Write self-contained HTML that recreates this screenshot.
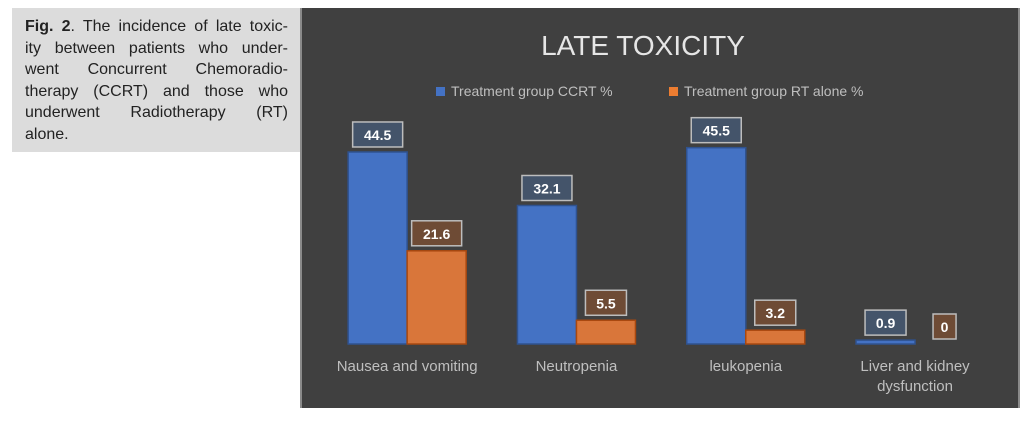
<!DOCTYPE html>
<html><head><meta charset="utf-8"><style>
body{margin:0;width:1029px;height:421px;background:#fff;position:relative;overflow:hidden;font-family:"Liberation Sans","DejaVu Sans",sans-serif}
#cap{position:absolute;left:12px;top:8px;width:288px;height:144px;background:#dcdcdc;box-sizing:border-box;padding:8px 12px 0 13px;font-family:"Liberation Sans",sans-serif;font-size:16px;line-height:21.5px;color:#222}
#cap div{text-align:justify;text-align-last:justify;white-space:nowrap;height:21.5px}
#cap div.last{text-align-last:left}
#panel{position:absolute;left:300px;top:8px;width:720px;height:400px;background:#404040;border-left:2px solid #8a8a8a;border-right:2px solid #8a8a8a;box-sizing:border-box}
</style></head><body>
<div id="cap">
<div><b>Fig. 2</b>. The incidence of late toxic-</div>
<div>ity between patients who under-</div>
<div>went Concurrent Chemoradio-</div>
<div>therapy (CCRT) and those who</div>
<div>underwent Radiotherapy (RT)</div>
<div class="last">alone.</div>
</div>
<div id="panel"></div>
<svg id="chart" width="1029" height="421" style="position:absolute;left:0;top:0">
<text x="643" y="55" text-anchor="middle" font-size="28" fill="#e6e6e6">LATE TOXICITY</text>
<rect x="436" y="87" width="9" height="9" fill="#4472c4"/>
<text x="451" y="96" font-size="14" fill="#bfbfbf">Treatment group CCRT %</text>
<rect x="669" y="87" width="9" height="9" fill="#ed7d31"/>
<text x="684" y="96" font-size="14" fill="#bfbfbf">Treatment group RT alone %</text>
<g id="marks"></g>
</svg>
<script>
const categories=[["Nausea and vomiting"],["Neutropenia"],["leukopenia"],["Liver and kidney","dysfunction"]];
const ccrt=[44.5,32.1,45.5,0.9];
const rtAlone=[21.6,5.5,3.2,0];
const series=[{vals:ccrt,fill:"#4472c4",stroke:"#2f528f",box:"#44546a",name:"ccrt"},{vals:rtAlone,fill:"#d9763a",stroke:"#a9480f",box:"#6e4b35",name:"rt"}];
const baseY=344,pxPer=4.315,x0=322.5,catW=169.3,barW=59;
const y=v=>baseY-v*pxPer;
const xc=i=>x0+catW*(i+0.5);
const NS="http://www.w3.org/2000/svg";
const g=document.getElementById('marks');
function mk(t,a){const e=document.createElementNS(NS,t);for(const k in a)e.setAttribute(k,a[k]);g.appendChild(e);return e;}
categories.forEach((c,i)=>{
  series.forEach((s,j)=>{
    const v=s.vals[i];const bx=xc(i)-barW+j*barW;
    if(v>0){
      const r=mk('rect',{x:bx,y:y(v),width:barW,height:baseY-y(v),fill:s.fill,stroke:s.stroke,'stroke-width':1.5});
      
      
    }
    const txt=String(v);const bw=txt.length*9+14;const cx=bx+barW/2;const by=y(v)-30;
    const b=mk('rect',{x:cx-bw/2,y:by,width:bw,height:25,fill:s.box,stroke:'#bdbdbd','stroke-width':1.5});
    
    
    const t=mk('text',{x:cx,y:by+18,'text-anchor':'middle','font-size':14,'font-weight':'bold',fill:'#fff'});
    t.textContent=txt;
    
    
  });
  c.forEach((line,k)=>{
    const t=mk('text',{x:xc(i),y:371+k*20,'text-anchor':'middle','font-size':15,fill:'#bfbfbf'});
    t.textContent=line;
    
    
  });
});
</script>
</body></html>
